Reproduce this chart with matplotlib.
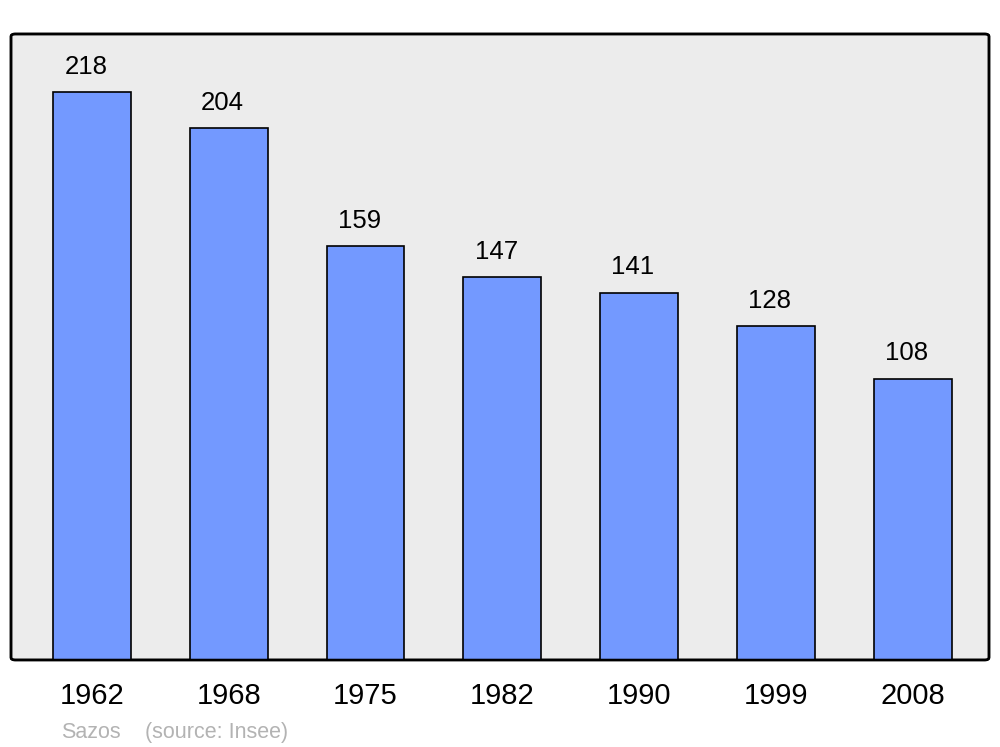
import matplotlib
matplotlib.use("Agg")
import matplotlib.pyplot as plt
from matplotlib.patches import FancyBboxPatch

# données
years = ["1962", "1968", "1975", "1982", "1990", "1999", "2008"]
population = [218, 204, 159, 147, 141, 128, 108]
commune = "Sazos"
source = "(source: Insee)"

plt.rcParams['font.family'] = ['Liberation Sans', 'DejaVu Sans']

fig = plt.figure(figsize=(10, 7.47), dpi=100)
ax = fig.add_axes([0.011, 0.1165, 0.978, 0.838])

x = list(range(len(years)))
ax.bar(x, population, width=0.57, color='#7399ff', edgecolor='black',
       linewidth=1.2, zorder=2)

for xi, v in zip(x, population):
    ax.annotate(str(v), (xi - 0.044, v), xytext=(0, 13), textcoords='offset points',
                ha='center', va='baseline', fontsize=18.5)

ax.set_xlim(-0.592, 6.559)
ax.set_ylim(0, 240.2)
ax.set_facecolor('none')
for s in ax.spines.values():
    s.set_visible(False)

# cadre arrondi
frame = FancyBboxPatch((0, 0), 1, 1, boxstyle='round,pad=0,rounding_size=0.004',
                       transform=ax.transAxes, facecolor='#ececec',
                       edgecolor='black', linewidth=1.8, zorder=0, clip_on=False)
ax.add_patch(frame)
frame2 = FancyBboxPatch((0, 0), 1, 1, boxstyle='round,pad=0,rounding_size=0.004',
                        transform=ax.transAxes, facecolor='none',
                        edgecolor='black', linewidth=1.8, zorder=3, clip_on=False)
ax.add_patch(frame2)

ax.set_xticks(x)
ax.set_xticklabels(years, fontsize=21)
ax.tick_params(axis='x', length=0, pad=16)
ax.set_yticks([])

fig.text(61, 9, commune, transform=None, fontsize=15.5, color='#b3b3b3', va='baseline')
fig.text(145, 9, source, transform=None, fontsize=15.5, color='#b3b3b3', va='baseline')

fig.savefig('out.png', dpi=100)
